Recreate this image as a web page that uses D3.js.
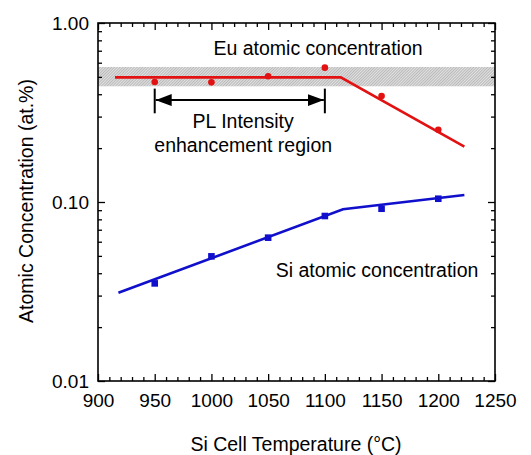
<!DOCTYPE html>
<html>
<head>
<meta charset="utf-8">
<script src="https://d3js.org/d3.v7.min.js"></script>
<style>
	body { margin: 0; background: #fff; }
	svg { display: block; font-family: "Liberation Sans", Arial, sans-serif; }
	.axis path { display: none; }
	.axis line { stroke: #000; stroke-width: 1.3px; }
	.ann { font-size: 19.5px; fill: #000; }
</style>
</head>
<body>
<svg width="531" height="455"></svg>
<script>
// measured points
var temps = [950, 1000, 1050, 1100, 1150, 1200];
var eu = [0.468, 0.466, 0.504, 0.563, 0.391, 0.253];
var si = [0.0351, 0.0497, 0.0632, 0.0835, 0.0917, 0.1043];

// fitted guide lines
var euFitT = [915, 1114, 1223];
var euFit = [0.497, 0.497, 0.204];
var siFitT = [918, 1116, 1223];
var siFit = [0.0311, 0.091, 0.1094];

// shaded Eu band and PL enhancement region
var band = [0.443, 0.568];
var region = [950, 1100];

var xTicks = [900, 950, 1000, 1050, 1100, 1150, 1200, 1250];
var yTicks = [0.01, 0.1, 1];
var yLabels = ["0.01", "0.10", "1.00"];

var svg = d3.select("svg");
var L = 98, R = 495, T = 23, B = 381;

var x = d3.scaleLinear().domain([900, 1250]).range([L, R]);
var y = d3.scaleLog().domain([0.01, 1]).range([B, T]);

var xMinor = d3.range(900, 1251, 10).filter(function(d) { return d % 50 !== 0; });
var yMinor = [];
[0.01, 0.1].forEach(function(p) { for (var k = 2; k <= 9; k++) yMinor.push(p * k); });

// fine hatch for the band
var defs = svg.append("defs");
var pat = defs.append("pattern")
	.attr("id", "hatch")
	.attr("patternUnits", "userSpaceOnUse")
	.attr("width", 2).attr("height", 2)
	.attr("patternTransform", "rotate(45)");
pat.append("rect").attr("width", 2).attr("height", 2).attr("fill", "#e2e2e2");
pat.append("line").attr("x1", 0.5).attr("y1", 0).attr("x2", 0.5).attr("y2", 2)
	.attr("stroke", "#b4b4b4").attr("stroke-width", 0.9);

svg.append("rect")
	.attr("x", L).attr("width", R - L)
	.attr("y", y(band[1])).attr("height", y(band[0]) - y(band[1]))
	.attr("fill", "url(#hatch)");

// axes: major + minor ticks, all pointing inward
function ticks(axisFn, pos, vals, size, labels, pad) {
	var a = axisFn.tickValues(vals).tickSize(size).tickPadding(pad || 8);
	if (labels) a.tickFormat(function(d, i) { return labels[i]; });
	else a.tickFormat("");
	svg.append("g").attr("class", "axis").attr("transform", pos).call(a)
		.selectAll("text").attr("font-size", 19).attr("font-family", "Liberation Sans, Arial, sans-serif").attr("fill", "#000");
}
ticks(d3.axisBottom(x), "translate(0," + B + ")", xTicks, -7, xTicks.map(String), 13);
ticks(d3.axisBottom(x), "translate(0," + B + ")", xMinor, -4);
ticks(d3.axisTop(x), "translate(0," + T + ")", xTicks, -7);
ticks(d3.axisTop(x), "translate(0," + T + ")", xMinor, -4);
ticks(d3.axisLeft(y), "translate(" + L + ",0)", yTicks, -7, yLabels, 9);
ticks(d3.axisLeft(y), "translate(" + L + ",0)", yMinor, -4);
ticks(d3.axisRight(y), "translate(" + R + ",0)", yTicks, -7);
ticks(d3.axisRight(y), "translate(" + R + ",0)", yMinor, -4);

svg.append("rect")
	.attr("x", L).attr("y", T).attr("width", R - L).attr("height", B - T)
	.attr("fill", "none").attr("stroke", "#000").attr("stroke-width", 1.6);

// arrow for PL region
var ay = y(0.371);
defs.append("marker").attr("id", "ah")
	.attr("viewBox", "0 0 16 12").attr("refX", 16).attr("refY", 6)
	.attr("markerWidth", 16).attr("markerHeight", 12)
	.attr("markerUnits", "userSpaceOnUse").attr("orient", "auto-start-reverse")
	.append("path").attr("d", "M0,0L16,6L0,12Z").attr("fill", "#000");
svg.append("line")
	.attr("x1", x(region[0]) + 1).attr("x2", x(region[1]) - 1)
	.attr("y1", ay).attr("y2", ay)
	.attr("stroke", "#000").attr("stroke-width", 2)
	.attr("marker-start", "url(#ah)").attr("marker-end", "url(#ah)");
svg.selectAll(".rbar").data(region).enter().append("line")
	.attr("x1", function(d) { return x(d); }).attr("x2", function(d) { return x(d); })
	.attr("y1", y(0.43)).attr("y2", y(0.313))
	.attr("stroke", "#000").attr("stroke-width", 2);

// lines
var red = "#e31212", blue = "#1010cc";
var line = d3.line().x(function(d) { return x(d[0]); }).y(function(d) { return y(d[1]); });
svg.append("path").datum(d3.zip(euFitT, euFit)).attr("d", line)
	.attr("fill", "none").attr("stroke", red).attr("stroke-width", 2.6);
svg.append("path").datum(d3.zip(siFitT, siFit)).attr("d", line)
	.attr("fill", "none").attr("stroke", blue).attr("stroke-width", 2.6);

svg.selectAll(".eu").data(d3.zip(temps, eu)).enter().append("circle")
	.attr("cx", function(d) { return x(d[0]); })
	.attr("cy", function(d) { return y(d[1]); })
	.attr("r", 3.3).attr("fill", red);
svg.selectAll(".si").data(d3.zip(temps, si)).enter().append("rect")
	.attr("x", function(d) { return x(d[0]) - 3.3; })
	.attr("y", function(d) { return y(d[1]) - 3.3; })
	.attr("width", 6.6).attr("height", 6.6).attr("fill", blue);

// annotations
function note(t, xv, yv) {
	svg.append("text").attr("class", "ann")
		.attr("x", x(xv)).attr("y", y(yv))
		.attr("text-anchor", "middle").text(t);
}
note("Eu atomic concentration", 1094, 0.663);
note("PL Intensity", 1028, 0.258);
note("enhancement region", 1028, 0.191);
note("Si atomic concentration", 1146, 0.0383);

// axis titles
svg.append("text").attr("class", "ann")
	.attr("x", 296).attr("y", 451)
	.attr("text-anchor", "middle").text("Si Cell Temperature (°C)");
svg.append("text").attr("class", "ann")
	.attr("transform", "translate(33,201) rotate(-90)")
	.attr("text-anchor", "middle").text("Atomic Concentration (at.%)");
</script>
</body>
</html>
